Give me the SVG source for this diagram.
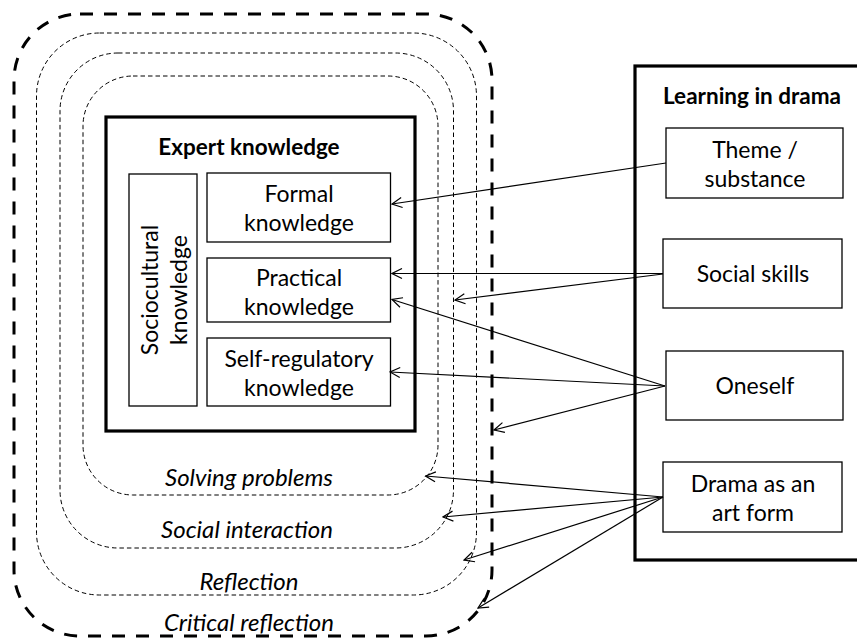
<svg xmlns="http://www.w3.org/2000/svg" width="857" height="639" viewBox="0 0 857 639">
  <defs>
    <marker id="open-arrow" viewBox="0 0 12 12" refX="11" refY="6" markerWidth="12" markerHeight="12" markerUnits="userSpaceOnUse" orient="auto">
      <path d="M1,1 L11,6 L1,11" fill="none" stroke="#000" stroke-width="1.2"/>
    </marker>
  </defs>
  <style>
    text { font-family: Lato, "Open Sans", "Liberation Sans", sans-serif; fill: #000; text-anchor: middle; dominant-baseline: central; }
    .lbl { font-size: 23px; }
    .ttl { font-size: 22.5px; font-weight: bold; }
    .ring { font-size: 24px; font-style: italic; }
    .box { fill: #fff; stroke: #000; stroke-width: 1.3; }
    .frame { fill: none; stroke: #000; stroke-width: 3.2; }
    .outer { fill: none; stroke: #000; stroke-width: 3; stroke-dasharray: 13 11; }
    .inner { fill: none; stroke: #000; stroke-width: 1; stroke-dasharray: 4.5 3; }
    .conn line { stroke: #000; stroke-width: 1.2; marker-end: url(#open-arrow); }
  </style>
  <rect width="857" height="639" fill="#fff"/>

  <!-- nested learning contexts -->
  <g id="critical-reflection">
    <rect class="outer" x="14" y="14" width="478" height="622" rx="66" ry="66"/>
    <text class="ring" x="249" y="621">Critical reflection</text>
  </g>
  <g id="reflection">
    <rect class="inner" x="36.5" y="33" width="440" height="562" rx="63" ry="63"/>
    <text class="ring" x="249" y="580">Reflection</text>
  </g>
  <g id="social-interaction">
    <rect class="inner" x="60" y="53" width="393.5" height="495" rx="58" ry="58"/>
    <text class="ring" x="247" y="528">Social interaction</text>
  </g>
  <g id="solving-problems">
    <rect class="inner" x="83" y="76" width="355" height="419" rx="50" ry="50"/>
    <text class="ring" x="249" y="476">Solving problems</text>
  </g>

  <!-- expert knowledge -->
  <g id="expert-knowledge">
    <rect class="frame" x="106" y="117" width="309" height="314"/>
    <text class="ttl" x="249" y="146">Expert knowledge</text>
  </g>
  <g id="sociocultural-knowledge">
    <rect class="box" x="129" y="174" width="68" height="232"/>
    <g transform="translate(163,290) rotate(-90)">
      <text class="lbl" x="0" y="-14">Sociocultural</text>
      <text class="lbl" x="0" y="15">knowledge</text>
    </g>
  </g>
  <g id="formal-knowledge">
    <rect class="box" x="207" y="173" width="183.5" height="69"/>
    <text class="lbl" x="299" y="193">Formal</text>
    <text class="lbl" x="299" y="222">knowledge</text>
  </g>
  <g id="practical-knowledge">
    <rect class="box" x="207" y="258" width="183.5" height="64"/>
    <text class="lbl" x="299" y="277">Practical</text>
    <text class="lbl" x="299" y="306">knowledge</text>
  </g>
  <g id="self-regulatory-knowledge">
    <rect class="box" x="207" y="338" width="183.5" height="68"/>
    <text class="lbl" x="299" y="358">Self-regulatory</text>
    <text class="lbl" x="299" y="387">knowledge</text>
  </g>

  <!-- learning in drama -->
  <g id="learning-in-drama">
    <rect class="frame" x="635" y="66" width="226" height="494"/>
    <text class="ttl" x="752" y="95">Learning in drama</text>
  </g>
  <g id="theme-substance">
    <rect class="box" x="666" y="128" width="177" height="70"/>
    <text class="lbl" x="755" y="149">Theme /</text>
    <text class="lbl" x="755" y="178">substance</text>
  </g>
  <g id="social-skills">
    <rect class="box" x="663" y="239" width="179" height="69"/>
    <text class="lbl" x="753" y="273">Social skills</text>
  </g>
  <g id="oneself">
    <rect class="box" x="666" y="351" width="177" height="69"/>
    <text class="lbl" x="755" y="385">Oneself</text>
  </g>
  <g id="drama-art-form">
    <rect class="box" x="663" y="462" width="179" height="70"/>
    <text class="lbl" x="753" y="483">Drama as an</text>
    <text class="lbl" x="753" y="512">art form</text>
  </g>

  <!-- connectors -->
  <g id="connectors" class="conn">
    <line x1="666" y1="163" x2="392" y2="204"/>
    <line x1="663" y1="273.5" x2="392" y2="273.5"/>
    <line x1="663" y1="274" x2="455" y2="300"/>
    <line x1="665" y1="386" x2="392" y2="299.5"/>
    <line x1="665" y1="386" x2="390" y2="372"/>
    <line x1="665" y1="386" x2="494" y2="430"/>
    <line x1="663" y1="497" x2="425.5" y2="476"/>
    <line x1="663" y1="497" x2="443" y2="517"/>
    <line x1="663" y1="497" x2="464" y2="560"/>
    <line x1="663" y1="497" x2="478" y2="608"/>
  </g>
</svg>
